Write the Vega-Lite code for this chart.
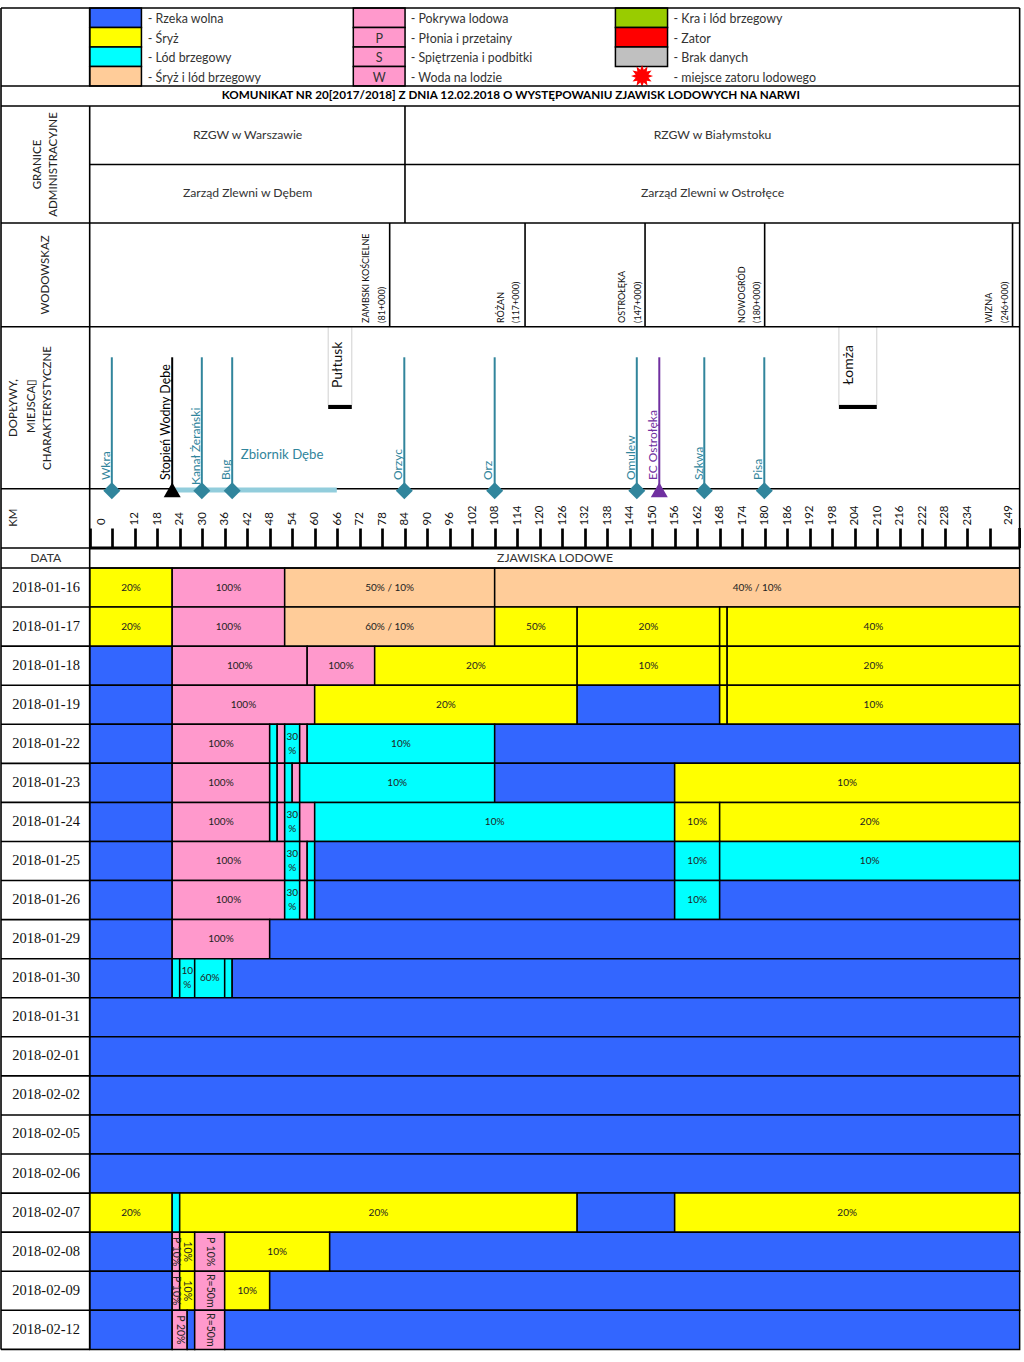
{
"$schema":"https://vega.github.io/schema/vega-lite/v6.json",
"autosize":{"type":"fit","contains":"padding"},
"width":1024,"height":1362,"padding":0,"background":"white",
"config":{"view":{"stroke":null},"text":{"font":"Lato"}},
"datasets":{
"ice":[
{"date":"2018-01-16","y0":0,"y1":1,"ym":0.5,"from":0,"to":22,"mid":11,"state":"Śryż","label":"20%"},
{"date":"2018-01-16","y0":0,"y1":1,"ym":0.5,"from":22,"to":52,"mid":37,"state":"Pokrywa lodowa","label":"100%"},
{"date":"2018-01-16","y0":0,"y1":1,"ym":0.5,"from":52,"to":108,"mid":80,"state":"Śryż i lód brzegowy","label":"50% / 10%"},
{"date":"2018-01-16","y0":0,"y1":1,"ym":0.5,"from":108,"to":248,"mid":178,"state":"Śryż i lód brzegowy","label":"40% / 10%"},
{"date":"2018-01-17","y0":1,"y1":2,"ym":1.5,"from":0,"to":22,"mid":11,"state":"Śryż","label":"20%"},
{"date":"2018-01-17","y0":1,"y1":2,"ym":1.5,"from":22,"to":52,"mid":37,"state":"Pokrywa lodowa","label":"100%"},
{"date":"2018-01-17","y0":1,"y1":2,"ym":1.5,"from":52,"to":108,"mid":80,"state":"Śryż i lód brzegowy","label":"60% / 10%"},
{"date":"2018-01-17","y0":1,"y1":2,"ym":1.5,"from":108,"to":130,"mid":119,"state":"Śryż","label":"50%"},
{"date":"2018-01-17","y0":1,"y1":2,"ym":1.5,"from":130,"to":168,"mid":149,"state":"Śryż","label":"20%"},
{"date":"2018-01-17","y0":1,"y1":2,"ym":1.5,"from":168,"to":170,"state":"Śryż"},
{"date":"2018-01-17","y0":1,"y1":2,"ym":1.5,"from":170,"to":248,"mid":209,"state":"Śryż","label":"40%"},
{"date":"2018-01-18","y0":2,"y1":3,"ym":2.5,"from":0,"to":22,"state":"Rzeka wolna"},
{"date":"2018-01-18","y0":2,"y1":3,"ym":2.5,"from":22,"to":58,"mid":40,"state":"Pokrywa lodowa","label":"100%"},
{"date":"2018-01-18","y0":2,"y1":3,"ym":2.5,"from":58,"to":76,"mid":67,"state":"Pokrywa lodowa","label":"100%"},
{"date":"2018-01-18","y0":2,"y1":3,"ym":2.5,"from":76,"to":130,"mid":103,"state":"Śryż","label":"20%"},
{"date":"2018-01-18","y0":2,"y1":3,"ym":2.5,"from":130,"to":168,"mid":149,"state":"Śryż","label":"10%"},
{"date":"2018-01-18","y0":2,"y1":3,"ym":2.5,"from":168,"to":170,"state":"Śryż"},
{"date":"2018-01-18","y0":2,"y1":3,"ym":2.5,"from":170,"to":248,"mid":209,"state":"Śryż","label":"20%"},
{"date":"2018-01-19","y0":3,"y1":4,"ym":3.5,"from":0,"to":22,"state":"Rzeka wolna"},
{"date":"2018-01-19","y0":3,"y1":4,"ym":3.5,"from":22,"to":60,"mid":41,"state":"Pokrywa lodowa","label":"100%"},
{"date":"2018-01-19","y0":3,"y1":4,"ym":3.5,"from":60,"to":130,"mid":95,"state":"Śryż","label":"20%"},
{"date":"2018-01-19","y0":3,"y1":4,"ym":3.5,"from":130,"to":168,"state":"Rzeka wolna"},
{"date":"2018-01-19","y0":3,"y1":4,"ym":3.5,"from":168,"to":170,"state":"Śryż"},
{"date":"2018-01-19","y0":3,"y1":4,"ym":3.5,"from":170,"to":248,"mid":209,"state":"Śryż","label":"10%"},
{"date":"2018-01-22","y0":4,"y1":5,"ym":4.5,"from":0,"to":22,"state":"Rzeka wolna"},
{"date":"2018-01-22","y0":4,"y1":5,"ym":4.5,"from":22,"to":48,"mid":35,"state":"Pokrywa lodowa","label":"100%"},
{"date":"2018-01-22","y0":4,"y1":5,"ym":4.5,"from":48,"to":50,"state":"Lód brzegowy"},
{"date":"2018-01-22","y0":4,"y1":5,"ym":4.5,"from":50,"to":52,"state":"Pokrywa lodowa"},
{"date":"2018-01-22","y0":4,"y1":5,"ym":4.5,"from":52,"to":56,"mid":54,"state":"Lód brzegowy","labelStacked":"30\n%"},
{"date":"2018-01-22","y0":4,"y1":5,"ym":4.5,"from":56,"to":58,"state":"Pokrywa lodowa"},
{"date":"2018-01-22","y0":4,"y1":5,"ym":4.5,"from":58,"to":108,"mid":83,"state":"Lód brzegowy","label":"10%"},
{"date":"2018-01-22","y0":4,"y1":5,"ym":4.5,"from":108,"to":248,"state":"Rzeka wolna"},
{"date":"2018-01-23","y0":5,"y1":6,"ym":5.5,"from":0,"to":22,"state":"Rzeka wolna"},
{"date":"2018-01-23","y0":5,"y1":6,"ym":5.5,"from":22,"to":48,"mid":35,"state":"Pokrywa lodowa","label":"100%"},
{"date":"2018-01-23","y0":5,"y1":6,"ym":5.5,"from":48,"to":50,"state":"Lód brzegowy"},
{"date":"2018-01-23","y0":5,"y1":6,"ym":5.5,"from":50,"to":52,"state":"Pokrywa lodowa"},
{"date":"2018-01-23","y0":5,"y1":6,"ym":5.5,"from":52,"to":54,"state":"Lód brzegowy"},
{"date":"2018-01-23","y0":5,"y1":6,"ym":5.5,"from":54,"to":56,"state":"Pokrywa lodowa"},
{"date":"2018-01-23","y0":5,"y1":6,"ym":5.5,"from":56,"to":108,"mid":82,"state":"Lód brzegowy","label":"10%"},
{"date":"2018-01-23","y0":5,"y1":6,"ym":5.5,"from":108,"to":156,"state":"Rzeka wolna"},
{"date":"2018-01-23","y0":5,"y1":6,"ym":5.5,"from":156,"to":248,"mid":202,"state":"Śryż","label":"10%"},
{"date":"2018-01-24","y0":6,"y1":7,"ym":6.5,"from":0,"to":22,"state":"Rzeka wolna"},
{"date":"2018-01-24","y0":6,"y1":7,"ym":6.5,"from":22,"to":48,"mid":35,"state":"Pokrywa lodowa","label":"100%"},
{"date":"2018-01-24","y0":6,"y1":7,"ym":6.5,"from":48,"to":50,"state":"Lód brzegowy"},
{"date":"2018-01-24","y0":6,"y1":7,"ym":6.5,"from":50,"to":52,"state":"Pokrywa lodowa"},
{"date":"2018-01-24","y0":6,"y1":7,"ym":6.5,"from":52,"to":56,"mid":54,"state":"Lód brzegowy","labelStacked":"30\n%"},
{"date":"2018-01-24","y0":6,"y1":7,"ym":6.5,"from":56,"to":60,"state":"Pokrywa lodowa"},
{"date":"2018-01-24","y0":6,"y1":7,"ym":6.5,"from":60,"to":156,"mid":108,"state":"Lód brzegowy","label":"10%"},
{"date":"2018-01-24","y0":6,"y1":7,"ym":6.5,"from":156,"to":168,"mid":162,"state":"Śryż","label":"10%"},
{"date":"2018-01-24","y0":6,"y1":7,"ym":6.5,"from":168,"to":248,"mid":208,"state":"Śryż","label":"20%"},
{"date":"2018-01-25","y0":7,"y1":8,"ym":7.5,"from":0,"to":22,"state":"Rzeka wolna"},
{"date":"2018-01-25","y0":7,"y1":8,"ym":7.5,"from":22,"to":52,"mid":37,"state":"Pokrywa lodowa","label":"100%"},
{"date":"2018-01-25","y0":7,"y1":8,"ym":7.5,"from":52,"to":56,"mid":54,"state":"Lód brzegowy","labelStacked":"30\n%"},
{"date":"2018-01-25","y0":7,"y1":8,"ym":7.5,"from":56,"to":58,"state":"Pokrywa lodowa"},
{"date":"2018-01-25","y0":7,"y1":8,"ym":7.5,"from":58,"to":60,"state":"Lód brzegowy"},
{"date":"2018-01-25","y0":7,"y1":8,"ym":7.5,"from":60,"to":156,"state":"Rzeka wolna"},
{"date":"2018-01-25","y0":7,"y1":8,"ym":7.5,"from":156,"to":168,"mid":162,"state":"Lód brzegowy","label":"10%"},
{"date":"2018-01-25","y0":7,"y1":8,"ym":7.5,"from":168,"to":248,"mid":208,"state":"Lód brzegowy","label":"10%"},
{"date":"2018-01-26","y0":8,"y1":9,"ym":8.5,"from":0,"to":22,"state":"Rzeka wolna"},
{"date":"2018-01-26","y0":8,"y1":9,"ym":8.5,"from":22,"to":52,"mid":37,"state":"Pokrywa lodowa","label":"100%"},
{"date":"2018-01-26","y0":8,"y1":9,"ym":8.5,"from":52,"to":56,"mid":54,"state":"Lód brzegowy","labelStacked":"30\n%"},
{"date":"2018-01-26","y0":8,"y1":9,"ym":8.5,"from":56,"to":58,"state":"Pokrywa lodowa"},
{"date":"2018-01-26","y0":8,"y1":9,"ym":8.5,"from":58,"to":60,"state":"Lód brzegowy"},
{"date":"2018-01-26","y0":8,"y1":9,"ym":8.5,"from":60,"to":156,"state":"Rzeka wolna"},
{"date":"2018-01-26","y0":8,"y1":9,"ym":8.5,"from":156,"to":168,"mid":162,"state":"Lód brzegowy","label":"10%"},
{"date":"2018-01-26","y0":8,"y1":9,"ym":8.5,"from":168,"to":248,"state":"Rzeka wolna"},
{"date":"2018-01-29","y0":9,"y1":10,"ym":9.5,"from":0,"to":22,"state":"Rzeka wolna"},
{"date":"2018-01-29","y0":9,"y1":10,"ym":9.5,"from":22,"to":48,"mid":35,"state":"Pokrywa lodowa","label":"100%"},
{"date":"2018-01-29","y0":9,"y1":10,"ym":9.5,"from":48,"to":248,"state":"Rzeka wolna"},
{"date":"2018-01-30","y0":10,"y1":11,"ym":10.5,"from":0,"to":22,"state":"Rzeka wolna"},
{"date":"2018-01-30","y0":10,"y1":11,"ym":10.5,"from":22,"to":24,"state":"Lód brzegowy"},
{"date":"2018-01-30","y0":10,"y1":11,"ym":10.5,"from":24,"to":28,"mid":26,"state":"Lód brzegowy","labelStacked":"10\n%"},
{"date":"2018-01-30","y0":10,"y1":11,"ym":10.5,"from":28,"to":36,"mid":32,"state":"Lód brzegowy","label":"60%"},
{"date":"2018-01-30","y0":10,"y1":11,"ym":10.5,"from":36,"to":38,"state":"Lód brzegowy"},
{"date":"2018-01-30","y0":10,"y1":11,"ym":10.5,"from":38,"to":248,"state":"Rzeka wolna"},
{"date":"2018-01-31","y0":11,"y1":12,"ym":11.5,"from":0,"to":248,"state":"Rzeka wolna"},
{"date":"2018-02-01","y0":12,"y1":13,"ym":12.5,"from":0,"to":248,"state":"Rzeka wolna"},
{"date":"2018-02-02","y0":13,"y1":14,"ym":13.5,"from":0,"to":248,"state":"Rzeka wolna"},
{"date":"2018-02-05","y0":14,"y1":15,"ym":14.5,"from":0,"to":248,"state":"Rzeka wolna"},
{"date":"2018-02-06","y0":15,"y1":16,"ym":15.5,"from":0,"to":248,"state":"Rzeka wolna"},
{"date":"2018-02-07","y0":16,"y1":17,"ym":16.5,"from":0,"to":22,"mid":11,"state":"Śryż","label":"20%"},
{"date":"2018-02-07","y0":16,"y1":17,"ym":16.5,"from":22,"to":24,"state":"Lód brzegowy"},
{"date":"2018-02-07","y0":16,"y1":17,"ym":16.5,"from":24,"to":130,"mid":77,"state":"Śryż","label":"20%"},
{"date":"2018-02-07","y0":16,"y1":17,"ym":16.5,"from":130,"to":156,"state":"Rzeka wolna"},
{"date":"2018-02-07","y0":16,"y1":17,"ym":16.5,"from":156,"to":248,"mid":202,"state":"Śryż","label":"20%"},
{"date":"2018-02-08","y0":17,"y1":18,"ym":17.5,"from":0,"to":22,"state":"Rzeka wolna"},
{"date":"2018-02-08","y0":17,"y1":18,"ym":17.5,"from":22,"to":24,"mid":23,"state":"Płonia i przetainy","labelTurned":"P 10%"},
{"date":"2018-02-08","y0":17,"y1":18,"ym":17.5,"from":24,"to":28,"mid":26,"state":"Śryż","labelTurned":"10%"},
{"date":"2018-02-08","y0":17,"y1":18,"ym":17.5,"from":28,"to":36,"mid":32,"state":"Płonia i przetainy","labelTurned":"P 10%"},
{"date":"2018-02-08","y0":17,"y1":18,"ym":17.5,"from":36,"to":64,"mid":50,"state":"Śryż","label":"10%"},
{"date":"2018-02-08","y0":17,"y1":18,"ym":17.5,"from":64,"to":248,"state":"Rzeka wolna"},
{"date":"2018-02-09","y0":18,"y1":19,"ym":18.5,"from":0,"to":22,"state":"Rzeka wolna"},
{"date":"2018-02-09","y0":18,"y1":19,"ym":18.5,"from":22,"to":24,"mid":23,"state":"Płonia i przetainy","labelTurned":"P 10%"},
{"date":"2018-02-09","y0":18,"y1":19,"ym":18.5,"from":24,"to":28,"mid":26,"state":"Śryż","labelTurned":"10%"},
{"date":"2018-02-09","y0":18,"y1":19,"ym":18.5,"from":28,"to":36,"mid":32,"state":"Płonia i przetainy","labelTurned":"R=50m"},
{"date":"2018-02-09","y0":18,"y1":19,"ym":18.5,"from":36,"to":48,"mid":42,"state":"Śryż","label":"10%"},
{"date":"2018-02-09","y0":18,"y1":19,"ym":18.5,"from":48,"to":248,"state":"Rzeka wolna"},
{"date":"2018-02-12","y0":19,"y1":20,"ym":19.5,"from":0,"to":22,"state":"Rzeka wolna"},
{"date":"2018-02-12","y0":19,"y1":20,"ym":19.5,"from":22,"to":26,"mid":24,"state":"Płonia i przetainy","labelTurned":"P 20%"},
{"date":"2018-02-12","y0":19,"y1":20,"ym":19.5,"from":26,"to":28,"state":"Rzeka wolna"},
{"date":"2018-02-12","y0":19,"y1":20,"ym":19.5,"from":28,"to":36,"mid":32,"state":"Płonia i przetainy","labelTurned":"R=50m"},
{"date":"2018-02-12","y0":19,"y1":20,"ym":19.5,"from":36,"to":248,"state":"Rzeka wolna"}
],
"dates":[
{"date":"2018-01-16","km":-11.6,"ym":0.5},{"date":"2018-01-17","km":-11.6,"ym":1.5},{"date":"2018-01-18","km":-11.6,"ym":2.5},{"date":"2018-01-19","km":-11.6,"ym":3.5},{"date":"2018-01-22","km":-11.6,"ym":4.5},{"date":"2018-01-23","km":-11.6,"ym":5.5},{"date":"2018-01-24","km":-11.6,"ym":6.5},{"date":"2018-01-25","km":-11.6,"ym":7.5},{"date":"2018-01-26","km":-11.6,"ym":8.5},{"date":"2018-01-29","km":-11.6,"ym":9.5},{"date":"2018-01-30","km":-11.6,"ym":10.5},{"date":"2018-01-31","km":-11.6,"ym":11.5},{"date":"2018-02-01","km":-11.6,"ym":12.5},{"date":"2018-02-02","km":-11.6,"ym":13.5},{"date":"2018-02-05","km":-11.6,"ym":14.5},{"date":"2018-02-06","km":-11.6,"ym":15.5},{"date":"2018-02-07","km":-11.6,"ym":16.5},{"date":"2018-02-08","km":-11.6,"ym":17.5},{"date":"2018-02-09","km":-11.6,"ym":18.5},{"date":"2018-02-12","km":-11.6,"ym":19.5}
],
"legend":[
{"state":"Rzeka wolna","from":0,"to":13.8,"y0":-14.333,"y1":-13.834,"tx":15.5,"ym":-14.065,"mid":6.9,"text":"- Rzeka wolna"},
{"state":"Śryż","from":0,"to":13.8,"y0":-13.834,"y1":-13.335,"tx":15.5,"ym":-13.566,"mid":6.9,"text":"- Śryż"},
{"state":"Lód brzegowy","from":0,"to":13.8,"y0":-13.335,"y1":-12.836,"tx":15.5,"ym":-13.067,"mid":6.9,"text":"- Lód brzegowy"},
{"state":"Śryż i lód brzegowy","from":0,"to":13.8,"y0":-12.836,"y1":-12.337,"tx":15.5,"ym":-12.567,"mid":6.9,"text":"- Śryż i lód brzegowy"},
{"state":"Pokrywa lodowa","from":70.3,"to":84.1,"y0":-14.333,"y1":-13.834,"tx":85.6,"ym":-14.065,"mid":77.2,"text":"- Pokrywa lodowa"},
{"state":"Płonia i przetainy","from":70.3,"to":84.1,"y0":-13.834,"y1":-13.335,"tx":85.6,"ym":-13.566,"mid":77.2,"text":"- Płonia i przetainy","letter":"P"},
{"state":"Spiętrzenia i podbitki","from":70.3,"to":84.1,"y0":-13.335,"y1":-12.836,"tx":85.6,"ym":-13.067,"mid":77.2,"text":"- Spiętrzenia i podbitki","letter":"S"},
{"state":"Woda na lodzie","from":70.3,"to":84.1,"y0":-12.836,"y1":-12.337,"tx":85.6,"ym":-12.567,"mid":77.2,"text":"- Woda na lodzie","letter":"W"},
{"state":"Kra i lód brzegowy","from":140.2,"to":154.1,"y0":-14.333,"y1":-13.834,"tx":155.7,"ym":-14.065,"mid":147.2,"text":"- Kra i lód brzegowy"},
{"state":"Zator","from":140.2,"to":154.1,"y0":-13.834,"y1":-13.335,"tx":155.7,"ym":-13.566,"mid":147.2,"text":"- Zator"},
{"state":"Brak danych","from":140.2,"to":154.1,"y0":-13.335,"y1":-12.836,"tx":155.7,"ym":-13.067,"mid":147.2,"text":"- Brak danych"}
],
"hlines":[
{"a":-23.65,"b":248,"y":-14.333},{"a":-23.65,"b":248,"y":-12.337},{"a":-23.65,"b":248,"y":-11.825},{"a":0,"b":248,"y":-10.328},{"a":-23.65,"b":248,"y":-8.83},{"a":-23.65,"b":248,"y":-6.176},{"a":-23.65,"b":248,"y":-2.03},{"a":-23.65,"b":248,"y":-0.512},{"a":-23.65,"b":248,"y":0},
{"a":-23.65,"b":0,"y":1},{"a":-23.65,"b":0,"y":2},{"a":-23.65,"b":0,"y":3},{"a":-23.65,"b":0,"y":4},{"a":-23.65,"b":0,"y":5},{"a":-23.65,"b":0,"y":6},{"a":-23.65,"b":0,"y":7},{"a":-23.65,"b":0,"y":8},{"a":-23.65,"b":0,"y":9},{"a":-23.65,"b":0,"y":10},{"a":-23.65,"b":0,"y":11},{"a":-23.65,"b":0,"y":12},{"a":-23.65,"b":0,"y":13},{"a":-23.65,"b":0,"y":14},{"a":-23.65,"b":0,"y":15},{"a":-23.65,"b":0,"y":16},{"a":-23.65,"b":0,"y":17},{"a":-23.65,"b":0,"y":18},{"a":-23.65,"b":0,"y":19},{"a":-23.65,"b":0,"y":20}
],
"vlines":[
{"x":-23.65,"a":-14.333,"b":20},{"x":0,"a":-11.825,"b":20},{"x":0,"a":-14.333,"b":-12.337},{"x":84.08,"a":-11.825,"b":-8.83},{"x":80,"a":-8.83,"b":-6.176},{"x":116.1,"a":-8.83,"b":-6.176},{"x":148.1,"a":-8.83,"b":-6.176},{"x":180,"a":-8.83,"b":-6.176},{"x":246.1,"a":-8.83,"b":-6.176},{"x":248,"a":-14.333,"b":0}
],
"tributaries":[
{"name":"Wkra","km":5.9,"tx":4.27,"ty":-2.252},{"name":"Kanał Żerański","km":29.9,"tx":28.3,"ty":-2.124},{"name":"Bug","km":38,"tx":36.3,"ty":-2.252},{"name":"Orzyc","km":83.9,"tx":82.2,"ty":-2.252},{"name":"Orz","km":108,"tx":106.3,"ty":-2.252},{"name":"Omulew","km":145.9,"tx":144.3,"ty":-2.252},{"name":"Szkwa","km":163.9,"tx":162.4,"ty":-2.252},{"name":"Pisa","km":179.9,"tx":178.3,"ty":-2.252}
],
"gauges":[
{"name":"ZAMBSKI KOŚCIELNE","km":73.7},{"name":"(81+000)","km":78},{"name":"RÓŻAN","km":109.7},{"name":"(117+000)","km":113.7},{"name":"OSTROŁĘKA","km":141.9},{"name":"(147+000)","km":146.1},{"name":"NOWOGRÓD","km":173.9},{"name":"(180+000)","km":177.9},{"name":"WIZNA","km":239.9},{"name":"(246+000)","km":244.1}
],
"towns":[
{"name":"Pułtusk","a":63.6,"b":69.9,"tx":66.3},{"name":"Łomża","a":199.8,"b":209.9,"tx":202.6}
],
"side":[
{"name":"GRANICE","km":-13.87,"y":-10.328},{"name":"ADMINISTRACYJNE","km":-9.44,"y":-10.328},{"name":"WODOWSKAZ","km":-11.73,"y":-7.5},{"name":"DOPŁYWY,","km":-20.2,"y":-4.095},{"name":"MIEJSCA▯","km":-15.5,"y":-4.15},{"name":"CHARAKTERYSTYCZNE","km":-11.0,"y":-4.095},{"name":"KM","km":-20.2,"y":-1.287}
],
"regions":[
{"name":"RZGW w Warszawie","km":42.1,"y":-11.083},{"name":"Zarząd Zlewni w Dębem","km":42.1,"y":-9.598},{"name":"RZGW w Białymstoku","km":166.1,"y":-11.083},{"name":"Zarząd Zlewni w Ostrołęce","km":166.1,"y":-9.598},{"name":"DATA","km":-11.73,"y":-0.264},{"name":"ZJAWISKA LODOWE","km":124.1,"y":-0.264}
]
},
"layer":[
{"data":{"name":"ice"},"mark":{"type":"rect","stroke":"#000000","strokeWidth":1.5},
 "encoding":{
  "x":{"field":"from","type":"quantitative","scale":{"domain":[-23.92,249.16],"nice":false,"zero":false},
   "axis":{"orient":"top","offset":-548,"title":null,"domain":false,"grid":false,"tickCount":100,"values":[0,6,12,18,24,30,36,42,48,54,60,66,72,78,84,90,96,102,108,114,120,126,132,138,144,150,156,162,168,174,180,186,192,198,204,210,216,222,228,234,240],"labelExpr":"datum.value==0||datum.value==6||datum.value==240?'':datum.label","labelAngle":-90,"labelFont":"Lato","labelFontSize":11.5,"labelColor":"#111111","labelPadding":3,"labelBound":false,"labelFlush":false,"labelOverlap":false,"tickColor":"#000000","tickWidth":2.7,"tickSize":20,"zindex":2}},
  "x2":{"field":"to"},
  "y":{"field":"y0","type":"quantitative","scale":{"domain":[-14.538,20.323],"reverse":true,"nice":false,"zero":false},"axis":null},
  "y2":{"field":"y1"},
  "color":{"field":"state","type":"nominal","legend":null,"scale":{"domain":["Rzeka wolna","Śryż","Lód brzegowy","Śryż i lód brzegowy","Pokrywa lodowa","Płonia i przetainy","Spiętrzenia i podbitki","Woda na lodzie","Kra i lód brzegowy","Zator","Brak danych"],"range":["#3366FF","#FFFF00","#00FFFF","#FFCC99","#FF99CC","#FF99CC","#FF99CC","#FF99CC","#99CC00","#FF0000","#C0C0C0"]}}
 }},
{"data":{"name":"ice"},"transform":[{"filter":"isValid(datum.label)"}],"mark":{"type":"text","fontSize":10,"color":"#222222"},
 "encoding":{"x":{"field":"mid","type":"quantitative"},"y":{"field":"ym","type":"quantitative","axis":null},"text":{"field":"label"}}},
{"data":{"name":"ice"},"transform":[{"filter":"isValid(datum.labelStacked)"}],"mark":{"type":"text","fontSize":10,"color":"#222222","lineBreak":"\n","lineHeight":14,"dy":-7},
 "encoding":{"x":{"field":"mid","type":"quantitative"},"y":{"field":"ym","type":"quantitative","axis":null},"text":{"field":"labelStacked"}}},
{"data":{"name":"ice"},"transform":[{"filter":"isValid(datum.labelTurned)"}],"mark":{"type":"text","fontSize":10.5,"color":"#222222","angle":90},
 "encoding":{"x":{"field":"mid","type":"quantitative"},"y":{"field":"ym","type":"quantitative","axis":null},"text":{"field":"labelTurned"}}},
{"data":{"name":"dates"},"mark":{"type":"text","font":"Liberation Serif","fontSize":14.5,"color":"#111111"},
 "encoding":{"x":{"field":"km","type":"quantitative"},"y":{"field":"ym","type":"quantitative","axis":null},"text":{"field":"date"}}},
{"data":{"name":"legend"},"mark":{"type":"rect","stroke":"#000000","strokeWidth":1.5},
 "encoding":{"x":{"field":"from","type":"quantitative"},"x2":{"field":"to"},"y":{"field":"y0","type":"quantitative","axis":null},"y2":{"field":"y1"},"color":{"field":"state","type":"nominal","legend":null}}},
{"data":{"name":"legend"},"mark":{"type":"text","align":"left","fontSize":12.4,"color":"#333333","dy":1},
 "encoding":{"x":{"field":"tx","type":"quantitative"},"y":{"field":"ym","type":"quantitative","axis":null},"text":{"field":"text"}}},
{"data":{"name":"legend"},"transform":[{"filter":"isValid(datum.letter)"}],"mark":{"type":"text","fontSize":12.5,"color":"#333333","dy":1},
 "encoding":{"x":{"field":"mid","type":"quantitative"},"y":{"field":"ym","type":"quantitative","axis":null},"text":{"field":"letter"}}},
{"data":{"values":[{"km":147.3,"y":-12.59}]},"mark":{"type":"point","filled":true,"color":"#FF0000","opacity":1,"size":484,"shape":"M1,0L.58,.155L.866,.5L.424,.424L.5,.866L.155,.58L0,1L-.155,.58L-.5,.866L-.424,.424L-.866,.5L-.58,.155L-1,0L-.58,-.155L-.866,-.5L-.424,-.424L-.5,-.866L-.155,-.58L0,-1L.155,-.58L.5,-.866L.424,-.424L.866,-.5L.58,-.155Z"},
 "encoding":{"x":{"field":"km","type":"quantitative"},"y":{"field":"y","type":"quantitative","axis":null}}},
{"data":{"values":[{"km":155.7,"y":-12.567,"t":"- miejsce zatoru lodowego"}]},"mark":{"type":"text","align":"left","fontSize":12.4,"color":"#333333","dy":1},
 "encoding":{"x":{"field":"km","type":"quantitative"},"y":{"field":"y","type":"quantitative","axis":null},"text":{"field":"t"}}},
{"data":{"name":"towns"},"mark":{"type":"rect","fill":"#FFFFFF","stroke":"#D0D0D0","strokeWidth":1},
 "encoding":{"x":{"field":"a","type":"quantitative"},"x2":{"field":"b"},"y":{"datum":-6.176,"type":"quantitative","axis":null},"y2":{"datum":-4.172}}},
{"data":{"name":"hlines"},"mark":{"type":"rule","color":"#000000","strokeWidth":1.6},
 "encoding":{"x":{"field":"a","type":"quantitative"},"x2":{"field":"b"},"y":{"field":"y","type":"quantitative","axis":null}}},
{"data":{"name":"vlines"},"mark":{"type":"rule","color":"#000000","strokeWidth":1.6},
 "encoding":{"x":{"field":"x","type":"quantitative"},"y":{"field":"a","type":"quantitative","axis":null},"y2":{"field":"b"}}},
{"data":{"values":[{"a":0,"b":248,"y":-0.512}]},"mark":{"type":"rule","color":"#000000","strokeWidth":3},
 "encoding":{"x":{"field":"a","type":"quantitative"},"x2":{"field":"b"},"y":{"field":"y","type":"quantitative","axis":null}}},
{"data":{"values":[{"km":248,"a":-1.024,"b":-0.512}]},"mark":{"type":"rule","color":"#000000","strokeWidth":2.7},
 "encoding":{"x":{"field":"km","type":"quantitative"},"y":{"field":"a","type":"quantitative","axis":null},"y2":{"field":"b"}}},
{"data":{"name":"towns"},"mark":{"type":"rule","color":"#000000","strokeWidth":4},
 "encoding":{"x":{"field":"a","type":"quantitative"},"x2":{"field":"b"},"y":{"datum":-4.121,"type":"quantitative","axis":null}}},
{"data":{"name":"towns"},"mark":{"type":"text","angle":-90,"fontSize":14,"color":"#111111"},
 "encoding":{"x":{"field":"tx","type":"quantitative"},"y":{"datum":-5.2,"type":"quantitative","axis":null},"text":{"field":"name"}}},
{"data":{"values":[{"a":22,"b":65.9,"y":-1.996}]},"mark":{"type":"rule","color":"#92CDDC","strokeWidth":5},
 "encoding":{"x":{"field":"a","type":"quantitative"},"x2":{"field":"b"},"y":{"field":"y","type":"quantitative","axis":null}}},
{"data":{"values":[{"km":40.3,"y":-2.892,"t":"Zbiornik Dębe"}]},"mark":{"type":"text","align":"left","fontSize":13.2,"color":"#31859C"},
 "encoding":{"x":{"field":"km","type":"quantitative"},"y":{"field":"y","type":"quantitative","axis":null},"text":{"field":"t"}}},
{"data":{"name":"tributaries"},"mark":{"type":"rule","color":"#31859C","strokeWidth":2},
 "encoding":{"x":{"field":"km","type":"quantitative"},"y":{"datum":-5.393,"type":"quantitative","axis":null},"y2":{"datum":-2.03}}},
{"data":{"name":"tributaries"},"mark":{"type":"text","angle":-90,"align":"left","baseline":"middle","fontSize":12,"color":"#31859C"},
 "encoding":{"x":{"field":"tx","type":"quantitative"},"y":{"field":"ty","type":"quantitative","axis":null},"text":{"field":"name"}}},
{"data":{"name":"tributaries"},"mark":{"type":"point","shape":"diamond","filled":true,"color":"#31859C","opacity":1,"size":289},
 "encoding":{"x":{"field":"km","type":"quantitative"},"y":{"datum":-1.98,"type":"quantitative","axis":null}}},
{"data":{"values":[{"km":22,"tx":20.3,"t":"Stopień Wodny Dębe"}]},"layer":[
 {"mark":{"type":"rule","color":"#000000","strokeWidth":2},"encoding":{"x":{"field":"km","type":"quantitative"},"y":{"datum":-5.393,"type":"quantitative","axis":null},"y2":{"datum":-2.03}}},
 {"mark":{"type":"text","angle":-90,"align":"left","baseline":"middle","fontSize":12.4,"color":"#000000"},"encoding":{"x":{"field":"tx","type":"quantitative"},"y":{"datum":-2.252,"type":"quantitative","axis":null},"text":{"field":"t"}}},
 {"mark":{"type":"point","shape":"triangle-up","filled":true,"color":"#000000","opacity":1,"size":289},"encoding":{"x":{"field":"km","type":"quantitative"},"y":{"datum":-2.0,"type":"quantitative","axis":null}}}
]},
{"data":{"values":[{"km":151.9,"tx":150.3,"t":"EC Ostrołęka"}]},"layer":[
 {"mark":{"type":"rule","color":"#7030A0","strokeWidth":2},"encoding":{"x":{"field":"km","type":"quantitative"},"y":{"datum":-5.393,"type":"quantitative","axis":null},"y2":{"datum":-2.03}}},
 {"mark":{"type":"text","angle":-90,"align":"left","baseline":"middle","fontSize":12,"color":"#7030A0"},"encoding":{"x":{"field":"tx","type":"quantitative"},"y":{"datum":-2.252,"type":"quantitative","axis":null},"text":{"field":"t"}}},
 {"mark":{"type":"point","shape":"triangle-up","filled":true,"color":"#7030A0","opacity":1,"size":289},"encoding":{"x":{"field":"km","type":"quantitative"},"y":{"datum":-2.0,"type":"quantitative","axis":null}}}
]},
{"data":{"name":"gauges"},"mark":{"type":"text","angle":-90,"align":"left","baseline":"middle","fontSize":9,"color":"#111111"},
 "encoding":{"x":{"field":"km","type":"quantitative"},"y":{"datum":-6.271,"type":"quantitative","axis":null},"text":{"field":"name"}}},
{"data":{"name":"side"},"mark":{"type":"text","angle":-90,"fontSize":11.5,"color":"#222222"},
 "encoding":{"x":{"field":"km","type":"quantitative"},"y":{"field":"y","type":"quantitative","axis":null},"text":{"field":"name"}}},
{"data":{"name":"regions"},"mark":{"type":"text","fontSize":12.2,"color":"#333333"},
 "encoding":{"x":{"field":"km","type":"quantitative"},"y":{"field":"y","type":"quantitative","axis":null},"text":{"field":"name"}}},
{"data":{"values":[{"km":112.3,"y":-12.094,"t":"KOMUNIKAT NR 20[2017/2018] Z DNIA 12.02.2018 O WYSTĘPOWANIU ZJAWISK LODOWYCH NA NARWI"}]},"mark":{"type":"text","fontSize":11.7,"fontWeight":"bold","color":"#000000"},
 "encoding":{"x":{"field":"km","type":"quantitative"},"y":{"field":"y","type":"quantitative","axis":null},"text":{"field":"t"}}},
{"data":{"values":[{"km":3.2,"t":"0"},{"km":245.2,"t":"249"}]},"mark":{"type":"text","angle":-90,"align":"left","baseline":"middle","fontSize":11.5,"color":"#111111"},
 "encoding":{"x":{"field":"km","type":"quantitative"},"y":{"datum":-1.1,"type":"quantitative","axis":null},"text":{"field":"t"}}}
]
}
